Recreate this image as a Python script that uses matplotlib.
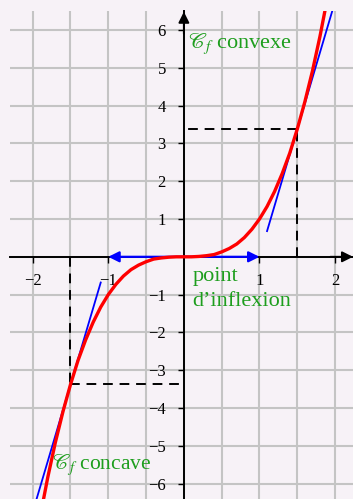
import matplotlib
matplotlib.use("Agg")
import matplotlib.pyplot as plt

# courbe de f
curve_x = [-1.9, -1.8, -1.7, -1.6, -1.5, -1.4, -1.3, -1.2, -1.1, -1.0,
           -0.9, -0.8, -0.7, -0.6, -0.5, -0.4, -0.3, -0.2, -0.1, 0.0,
           0.1, 0.2, 0.3, 0.4, 0.5, 0.6, 0.7, 0.8, 0.9, 1.0,
           1.1, 1.2, 1.3, 1.4, 1.5, 1.6, 1.7, 1.8, 1.9]
curve_y = [-6.86, -5.83, -4.91, -4.10, -3.38, -2.74, -2.20, -1.73, -1.33, -1.00,
           -0.73, -0.51, -0.34, -0.22, -0.13, -0.06, -0.03, -0.01, 0.00, 0.00,
           0.00, 0.01, 0.03, 0.06, 0.13, 0.22, 0.34, 0.51, 0.73, 1.00,
           1.33, 1.73, 2.20, 2.74, 3.38, 4.10, 4.91, 5.83, 6.86]

# tangentes
tan_right_x = [1.1, 1.98]
tan_right_y = [0.68, 6.62]
tan_left_x = [-1.1, -1.98]
tan_left_y = [-0.68, -6.62]
tan_origin_x = [-1.0, 1.0]

# points de lecture (pointillés)
dash_x = [1.5, -1.5]
dash_y = [3.375, -3.375]

xticks = [-2, -1, 1, 2]
yticks = [-6, -5, -4, -3, -2, -1, 1, 2, 3, 4, 5, 6]
grid_x = [-2, -1.5, -1, -0.5, 0, 0.5, 1, 1.5, 2]
grid_y = [-6, -5, -4, -3, -2, -1, 0, 1, 2, 3, 4, 5, 6]

plt.rcParams['mathtext.fontset'] = 'stix'
plt.rcParams['font.family'] = ['Liberation Serif', 'DejaVu Serif']

bg = '#f7f2f7'
green = '#1e9e1e'

fig = plt.figure(figsize=(3.53, 4.99), dpi=100, facecolor=bg)
ax = fig.add_axes([10/353, 0, 343/353, 488/499])
ax.set_facecolor(bg)
xmin, xmax = -2.3, 2.237
ymin, ymax = -6.407, 6.503
ax.set_xlim(xmin, xmax)
ax.set_ylim(ymin, ymax)

for gx in grid_x:
    ax.axvline(gx, color='#c4c4c4', lw=1.5, zorder=0)
for gy in grid_y:
    ax.axhline(gy, color='#c4c4c4', lw=1.5, zorder=0)

# axes
for s in ['top', 'right']:
    ax.spines[s].set_visible(False)
ax.spines['left'].set_position(('data', 0))
ax.spines['bottom'].set_position(('data', 0))
ax.spines['left'].set_linewidth(1.4)
ax.spines['bottom'].set_linewidth(1.4)
ax.set_xticks(xticks)
ax.set_yticks(yticks)
ax.set_xticklabels([str(t).replace('-', '\u2212') for t in xticks])
ax.set_yticklabels([str(t).replace('-', '\u2212') for t in yticks])
ax.tick_params(axis='both', direction='out', length=4, width=1, labelsize=12)
ax.tick_params(axis='x', pad=7.5)
ax.tick_params(axis='y', pad=9)

ax.annotate('', xy=(xmax, 0), xytext=(xmax - 0.3, 0),
            arrowprops=dict(arrowstyle='-|>', color='black', lw=1.4,
                            mutation_scale=16, shrinkA=0, shrinkB=0), zorder=5)
ax.annotate('', xy=(0, ymax - 0.02), xytext=(0, ymax - 0.6),
            arrowprops=dict(arrowstyle='-|>', color='black', lw=1.4,
                            mutation_scale=16, shrinkA=0, shrinkB=0), zorder=5)

# pointillés
for dx, dy in zip(dash_x, dash_y):
    ax.plot([dx, dx], [0, dy], color='black', lw=1.4, ls=(0, (5, 3.5)), zorder=2)
    ax.plot([dx, 0], [dy, dy], color='black', lw=1.4, ls=(0, (5, 3.5)), zorder=2)

# tangentes
ax.plot(tan_right_x, tan_right_y, color='blue', lw=1.3, zorder=3)
ax.plot(tan_left_x, tan_left_y, color='blue', lw=1.3, zorder=3)
ax.annotate('', xy=(tan_origin_x[0], 0), xytext=(tan_origin_x[1], 0),
            arrowprops=dict(arrowstyle='<|-|>', color='blue', lw=1.6,
                            mutation_scale=16, shrinkA=0, shrinkB=0), zorder=3)

# courbe
ax.plot(curve_x, curve_y, color='red', lw=2.4, zorder=4, solid_capstyle='round')

ax.text(0.05, 5.63, r'$\mathscr{C}_f$ convexe', color=green, fontsize=16,
        ha='left', va='center', zorder=6)
ax.text(0.11, -0.28, 'point', color=green, fontsize=16,
        ha='left', va='top', zorder=6)
ax.text(0.11, -1.3, 'd\u2019inflexion', color=green, fontsize=16,
        ha='left', va='baseline', zorder=6)
ax.text(-1.75, -5.5, r'$\mathscr{C}_f$ concave', color=green, fontsize=15.5,
        ha='left', va='center', zorder=6)

fig.savefig('out.png', dpi=100, facecolor=bg)
